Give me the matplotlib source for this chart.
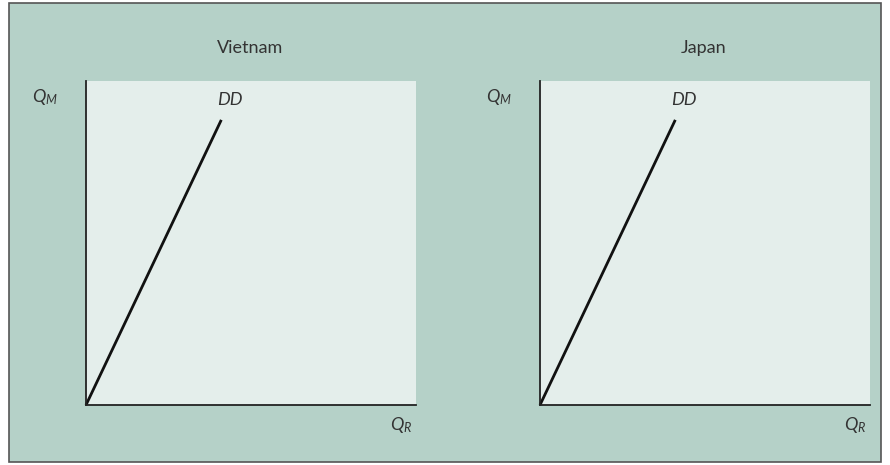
"""
Two-panel DD diagram: Vietnam and Japan
"""

import matplotlib.pyplot as plt
from matplotlib.patches import Rectangle

# -----------------------
# Data
# -----------------------
countries = ["Vietnam", "Japan"]
dd_x = [0, 4.1]
dd_y = [0, 8.8]
curve_label = "DD"

BG = "#b5d1c8"
PANEL = "#e4eeeb"
TEXT = "#333333"

plt.rcParams["font.family"] = ["Lato", "DejaVu Sans"]
plt.rcParams["mathtext.fontset"] = "custom"
plt.rcParams["mathtext.it"] = "Lato:italic"
plt.rcParams["mathtext.rm"] = "Lato"

fig = plt.figure(figsize=(8.9, 4.65), dpi=100)
fig.patch.set_facecolor("white")

# outer framed background
W, H = 890, 465
fig.patches.append(Rectangle((9 / W, 3 / H), 872 / W, 459 / H, transform=fig.transFigure,
                             facecolor=BG, edgecolor="#555555", linewidth=1.2, zorder=-1))

lefts = [86, 540]
for left, name in zip(lefts, countries):
    ax = fig.add_axes([left / W, 1 - 405 / H, 330 / W, 324 / H])
    ax.set_facecolor(PANEL)
    ax.set_xlim(0, 10)
    ax.set_ylim(0, 10)
    ax.plot(dd_x, dd_y, color="#111111", linewidth=2, solid_capstyle="butt", clip_on=False)
    ax.text(dd_x[1] + 0.25, dd_y[1] + 0.6, curve_label, style="italic", fontsize=13,
            color=TEXT, ha="center", va="center")
    for side in ["top", "right"]:
        ax.spines[side].set_visible(False)
    for side in ["left", "bottom"]:
        ax.spines[side].set_color("#222222")
        ax.spines[side].set_linewidth(1.3)
    ax.set_xticks([])
    ax.set_yticks([])

    fig.text((left + 164) / W, 1 - 48 / H, name, fontsize=13, color=TEXT,
             ha="center", va="center")
    fig.text((left - 41) / W, 1 - 97 / H, r"$Q_M$", fontsize=13,
             color=TEXT, ha="center", va="center")
    fig.text((left + 315) / W, 1 - 425 / H, r"$Q_R$", fontsize=13,
             color=TEXT, ha="center", va="center")

plt.savefig("out.png", dpi=100, facecolor=fig.get_facecolor())
plt.close()
